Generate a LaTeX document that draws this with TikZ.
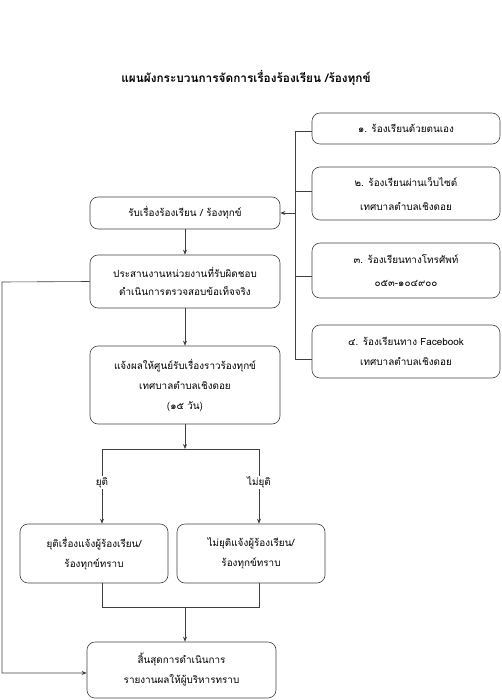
\documentclass[tikz,border=0pt]{standalone}
\usepackage{fontspec}
\newfontfamily\thaifont[Script=Thai]{Loma}
\usetikzlibrary{arrows.meta}
\begin{document}
\begin{tikzpicture}[x=1pt, y=-1pt,
  box/.style={draw=black!75, line width=0.6pt, rounded corners=8pt, align=center,
    inner sep=0pt, font=\thaifont\fontsize{9.9}{20}\selectfont},
  link/.style={draw=black!75, line width=0.6pt},
  arr/.style={link, -{Stealth[length=5pt, width=4pt]}},
  lbl/.style={fill=white, inner sep=1pt, font=\thaifont\fontsize{9.9}{11}\selectfont}]
\useasboundingbox (0,0) rectangle (502,700);
\node[font=\thaifont\bfseries\fontsize{11.8}{14}\selectfont] (title) at (246,78){แผนผังกระบวนการจัดการเรื่องร้องเรียน /ร้องทุกข์};
% ช่องทางร้องเรียน
\node[box, minimum width=188pt, minimum height=31pt] (ch1) at (406,128.5){๑. ร้องเรียนด้วยตนเอง};
\node[box, minimum width=188pt, minimum height=53pt, font=\thaifont\fontsize{9.9}{24}\selectfont] (ch2) at (406,193.5){๒. ร้องเรียนผ่านเว็บไซต์\\เทศบาลตำบลเชิงดอย};
\node[box, minimum width=188pt, minimum height=55pt, font=\thaifont\fontsize{9.9}{23}\selectfont] (ch3) at (406,270.5){๓. ร้องเรียนทางโทรศัพท์\\๐๕๓-๑๐๔๙๐๐};
\node[box, minimum width=188pt, minimum height=53pt] (ch4) at (406,351.5){๔. ร้องเรียนทาง Facebook\\เทศบาลตำบลเชิงดอย};
% ขั้นตอน
\node[box, minimum width=190pt, minimum height=32pt] (recv) at (185,213){รับเรื่องร้องเรียน / ร้องทุกข์};
\node[box, minimum width=190pt, minimum height=53pt, font=\thaifont\fontsize{9.9}{18}\selectfont] (coord) at (185,281.5){ประสานงานหน่วยงานที่รับผิดชอบ\\ดำเนินการตรวจสอบข้อเท็จจริง};
\node[box, minimum width=190pt, minimum height=78pt] (notify) at (185,385){แจ้งผลให้ศูนย์รับเรื่องราวร้องทุกข์\\เทศบาลตำบลเชิงดอย\\(๑๕ วัน)};
\node[box, minimum width=148pt, minimum height=59pt] (stop) at (94,553.5){ยุติเรื่องแจ้งผู้ร้องเรียน/\\ร้องทุกข์ทราบ};
\node[box, minimum width=148pt, minimum height=59pt] (cont) at (251,553.5){ไม่ยุติแจ้งผู้ร้องเรียน/\\ร้องทุกข์ทราบ};
\node[box, minimum width=189pt, minimum height=56pt] (finish) at (181.5,670){สิ้นสุดการดำเนินการ\\รายงานผลให้ผู้บริหารทราบ};
% จุดเชื่อม
\coordinate (j1) at (295,131);
\coordinate (j2) at (295,191);
\coordinate (ja) at (295,213);
\coordinate (j3) at (295,276);
\coordinate (j4) at (295,359);
\coordinate (split) at (185,449);
\coordinate (sl) at (102,449);
\coordinate (sr) at (259,449);
\coordinate (ml) at (102,607);
\coordinate (mr) at (259,607);
\coordinate (mm) at (185,607);
\coordinate (fb) at (2,282);
% เส้นเชื่อม
\draw[link](j1) -- (j4);
\draw[link](j1) -- (j1 -| ch1.west);
\draw[link](j2) -- (j2 -| ch2.west);
\draw[link](j3) -- (j3 -| ch3.west);
\draw[link](j4) -- (j4 -| ch4.west);
\draw[arr](ja) -- (recv.east);
\draw[arr](recv) -- (coord);
\draw[arr](coord) -- (notify);
\draw[arr](notify) -- (split);
\draw[link](sl) -- (sr);
\draw[arr](sl) -- node[lbl, pos=0.45]{ยุติ} (sl |- stop.north);
\draw[arr](sr) -- node[lbl, pos=0.45]{ไม่ยุติ} (sr |- cont.north);
\draw[link](ml |- stop.south) -- (ml) -- (mr) -- (mr |- cont.south);
\draw[arr](mm) -- (mm |- finish.north);
\draw[arr](coord.west) -- (fb) |- ([yshift=-3pt]finish.west);
\end{tikzpicture}
\end{document}
